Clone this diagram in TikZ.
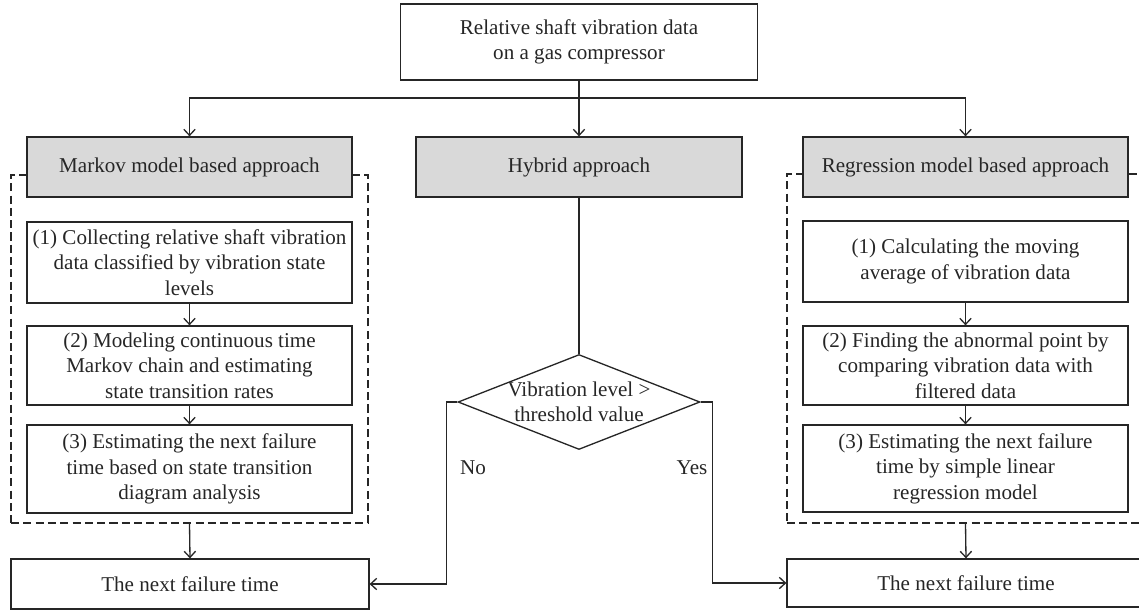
\documentclass[tikz,border=0pt]{standalone}
\usepackage{fontspec}
\setmainfont{Liberation Serif}
\usetikzlibrary{shapes.geometric,arrows.meta}

\tikzset{
  every node/.style={font=\fontsize{12}{14.5}\selectfont, text=black!85, align=center},
  line/.style={draw=black!85, line width=0.75pt},
  arr/.style={line, -{Straight Barb[length=3.5pt,width=6.5pt]}},
  box/.style={line, inner sep=0pt, minimum width=6.5cm},
  graybox/.style={box, fill=gray!30, minimum height=1.2cm},
  frame/.style={line, dash pattern=on 4.6pt off 2.4pt, inner sep=0pt},
  decision/.style={line, diamond, inner sep=0pt, minimum width=4.84cm, minimum height=1.9cm}
}

\begin{document}
\begin{tikzpicture}[x=0.02cm,y=-0.02cm]
\useasboundingbox (0,0) rectangle (1139,610);
\clip (0,0) rectangle (1139,610);

% dashed frames round the two model approaches
\node[frame,minimum width=7.14cm,minimum height=6.96cm] (mframe) at (189.5,349) {};
\node[frame,minimum width=7.14cm,minimum height=6.98cm] (rframe) at (965.5,348.5) {};

\node[box,minimum width=7.14cm,minimum height=1.52cm] (top) at (579,42) {Relative shaft vibration data\\on a gas compressor};

\node[graybox] (markov) at (189.5,167) {Markov model based approach};
\node[graybox,minimum width=6.52cm] (hybrid) at (579,167) {Hybrid approach};
\node[graybox] (regress) at (965.5,167) {Regression model based approach};

\node[box,minimum height=1.62cm] (m1) at (189.5,262.5) {(1) Collecting relative shaft vibration\\data classified by vibration state\\levels};
\node[box,minimum height=1.58cm] (m2) at (189.5,365.5) {(2) Modeling continuous time\\Markov chain and estimating\\state transition rates};
\node[box,minimum height=1.76cm] (m3) at (189.5,469) {(3) Estimating the next failure\\time based on state transition\\diagram analysis};

\node[box,minimum height=1.62cm] (r1) at (965.5,261.5) {(1) Calculating the moving\\average of vibration data};
\node[box,minimum height=1.58cm] (r2) at (965.5,365.5) {(2) Finding the abnormal point by\\comparing vibration data with\\filtered data};
\node[box,minimum height=1.74cm] (r3) at (965.5,468.5) {(3) Estimating the next failure\\time by simple linear\\regression model};

\node[box,minimum width=7.16cm,minimum height=1cm] (mfail) at (190,584) {The next failure time};
\node[box,minimum width=7.16cm,minimum height=0.96cm] (rfail) at (966,583) {The next failure time};

\node[decision,label={[align=center]center:Vibration level >\\threshold value}] (check) at (579,402) {};

\node (no) at (473,468) {No};
\node (yes) at (692,468) {Yes};

\coordinate (split) at (579,98);
\draw[line] (top.south) -- (split);
\draw[arr] (split) -| (markov.north);
\draw[arr] (split) -- (hybrid.north);
\draw[arr] (split) -| (regress.north);

\draw[arr] (m1) -- (m2);
\draw[arr] (m2) -- (m3);
\draw[arr] (r1) -- (r2);
\draw[arr] (r2) -- (r3);
\draw[arr] (mframe.south) -- (mfail.north);
\draw[arr] (rframe.south) -- (rfail.north);

\draw[line] (hybrid.south) -- (check.north);
\draw[arr] (check.west) -- ++(-11,0) |- (mfail.east);
\draw[arr] (check.east) -- ++(12,0) |- (rfail.west);

\end{tikzpicture}
\end{document}
